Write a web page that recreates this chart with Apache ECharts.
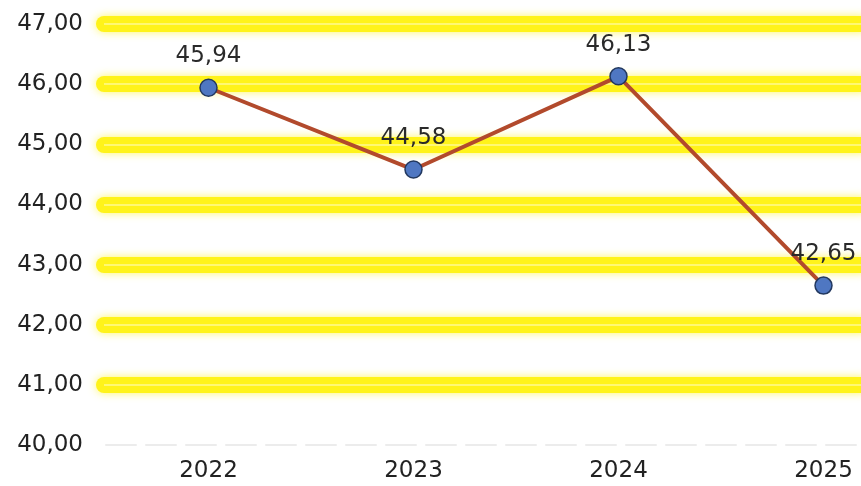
<!DOCTYPE html>
<html>
<head>
<meta charset="utf-8">
<script src="https://cdn.jsdelivr.net/npm/echarts@6/dist/echarts.min.js"></script>
<style>html,body{margin:0;padding:0;background:#fff;}#c{width:861px;height:486px;}</style>
</head>
<body>
<div id="c"></div>
<script>
const categories = ['2022', '2023', '2024', '2025'];
const values = [45.94, 44.58, 46.13, 42.65];
const yMin = 40, yMax = 47, yStep = 1;

const fmt = v => Number(v).toFixed(2).replace('.', ',');
const font = '"DejaVu Sans", sans-serif';

const chart = echarts.init(document.getElementById('c'));
chart.setOption({
  animation: false,
  backgroundColor: '#ffffff',
  grid: [
    { left: 106, width: 820, top: 24, bottom: 41, outerBoundsMode: 'none', containLabel: false },
    { left: 104, right: 0, top: 24, bottom: 101, outerBoundsMode: 'none' }
  ],
  xAxis: [
    {
      type: 'category', gridIndex: 0, data: categories, boundaryGap: true,
      axisLine: { show: true, lineStyle: { color: '#ececec', width: 2, type: [30, 10] } },
      axisTick: { show: false },
      axisLabel: { color: '#222', fontSize: 23, fontFamily: font, margin: 15 },
      splitLine: { show: false }
    },
    { type: 'value', gridIndex: 1, show: false, min: 0, max: 1 }
  ],
  yAxis: [
    {
      type: 'value', gridIndex: 0, min: yMin, max: yMax, interval: yStep,
      axisLine: { show: false }, axisTick: { show: false },
      axisLabel: { color: '#222', fontSize: 23, fontFamily: font, margin: 23, formatter: fmt },
      splitLine: { show: false }, z: 5
    },
    {
      type: 'value', gridIndex: 1, min: yMin + 1, max: yMax, interval: yStep,
      axisLine: { show: false }, axisTick: { show: false }, axisLabel: { show: false },
      splitLine: { show: true, lineStyle: { color: '#fff31a', width: 16, cap: 'round', shadowColor: 'rgba(255,245,60,0.8)', shadowBlur: 8 } },
      z: 1
    },
    {
      type: 'value', gridIndex: 1, min: yMin + 1, max: yMax, interval: yStep,
      axisLine: { show: false }, axisTick: { show: false }, axisLabel: { show: false },
      splitLine: { show: true, lineStyle: { color: 'rgba(255,255,225,0.6)', width: 1.5 } },
      z: 2
    }
  ],
  series: [
    {
      type: 'line', xAxisIndex: 0, yAxisIndex: 0, data: values,
      z: 10,
      lineStyle: { color: '#b24a2c', width: 4 },
      symbol: 'circle', symbolSize: 17,
      itemStyle: { color: '#4f77c2', borderColor: '#22385f', borderWidth: 1.5 },
      label: { show: true, position: 'top', distance: 11, color: '#2a2a2a', fontSize: 23, fontFamily: font, formatter: p => fmt(p.value) }
    }
  ]
});
</script>
</body>
</html>
